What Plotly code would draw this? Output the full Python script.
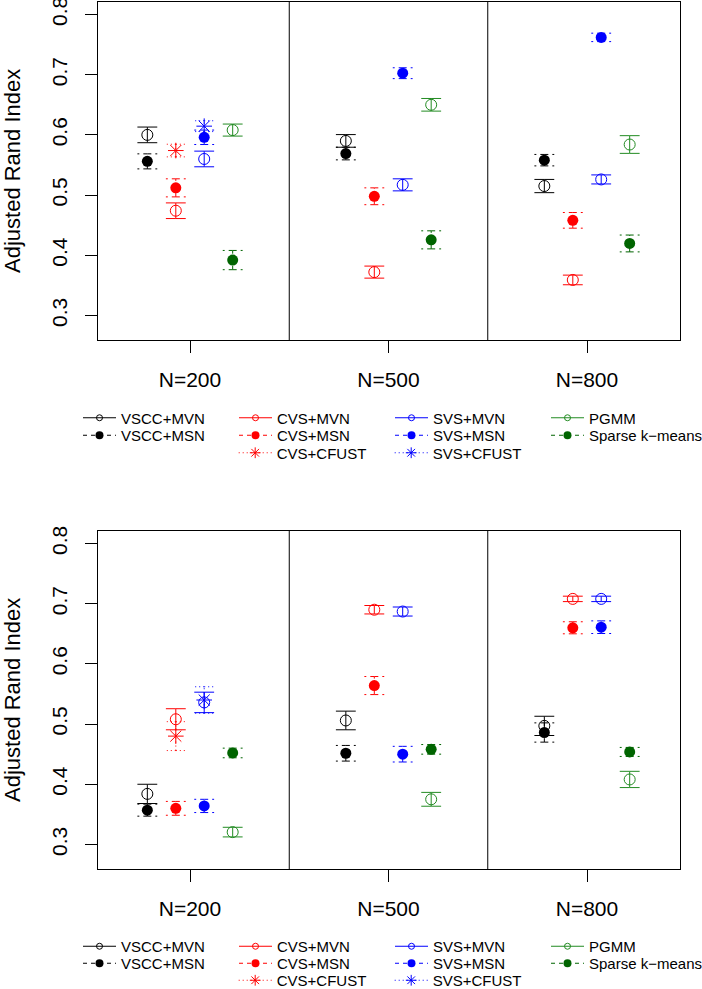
import plotly.graph_objects as go

# ---------------- data ----------------
groups = ["N=200", "N=500", "N=800"]
y_ticks = [0.3, 0.4, 0.5, 0.6, 0.7, 0.8]
y_title = "Adjusted Rand Index"

# top panel: means and half-widths of intervals
top_vscc_mvn = [0.600, 0.590, 0.515]
top_vscc_mvn_se = [0.013, 0.0105, 0.011]
top_vscc_msn = [0.556, 0.569, 0.558]
top_vscc_msn_se = [0.0125, 0.0105, 0.0095]
top_cvs_mvn = [0.474, 0.372, 0.359]
top_cvs_mvn_se = [0.013, 0.010, 0.008]
top_cvs_msn = [0.512, 0.498, 0.458]
top_cvs_msn_se = [0.015, 0.014, 0.013]
top_cvs_cfust = [0.574, None, None]
top_cvs_cfust_se = [0.0105, None, None]
top_svs_mvn = [0.560, 0.517, 0.526]
top_svs_mvn_se = [0.013, 0.010, 0.0075]
top_svs_msn = [0.596, 0.7025, 0.762]
top_svs_msn_se = [0.012, 0.009, 0.007]
top_svs_cfust = [0.6145, None, None]
top_svs_cfust_se = [0.009, None, None]
top_pgmm = [0.608, 0.650, 0.584]
top_pgmm_se = [0.010, 0.0105, 0.0147]
top_sparse = [0.392, 0.4256, 0.4196]
top_sparse_se = [0.016, 0.015, 0.014]

# bottom panel
bot_vscc_mvn = [0.384, 0.506, 0.497]
bot_vscc_mvn_se = [0.016, 0.0155, 0.016]
bot_vscc_msn = [0.357, 0.4515, 0.486]
bot_vscc_msn_se = [0.010, 0.013, 0.016]
bot_cvs_mvn = [0.508, 0.690, 0.708]
bot_cvs_mvn_se = [0.0175, 0.007, 0.0045]
bot_cvs_msn = [0.360, 0.564, 0.660]
bot_cvs_msn_se = [0.0115, 0.015, 0.010]
bot_cvs_cfust = [0.480, None, None]
bot_cvs_cfust_se = [0.024, None, None]
bot_svs_mvn = [0.536, 0.687, 0.708]
bot_svs_mvn_se = [0.017, 0.0075, 0.0045]
bot_svs_msn = [0.364, 0.450, 0.661]
bot_svs_msn_se = [0.011, 0.013, 0.0105]
bot_svs_cfust = [0.540, None, None]
bot_svs_cfust_se = [0.022, None, None]
bot_pgmm = [0.3205, 0.375, 0.408]
bot_pgmm_se = [0.008, 0.0115, 0.0135]
bot_sparse = [0.452, 0.458, 0.4537]
bot_sparse_se = [0.008, 0.008, 0.0075]

method_names = ["VSCC+MVN", "VSCC+MSN", "CVS+MVN", "CVS+MSN", "CVS+CFUST",
                "SVS+MVN", "SVS+MSN", "SVS+CFUST", "PGMM", "Sparse k\u2212means"]

panels = [
    [(top_vscc_mvn, top_vscc_mvn_se), (top_vscc_msn, top_vscc_msn_se),
     (top_cvs_mvn, top_cvs_mvn_se), (top_cvs_msn, top_cvs_msn_se),
     (top_cvs_cfust, top_cvs_cfust_se), (top_svs_mvn, top_svs_mvn_se),
     (top_svs_msn, top_svs_msn_se), (top_svs_cfust, top_svs_cfust_se),
     (top_pgmm, top_pgmm_se), (top_sparse, top_sparse_se)],
    [(bot_vscc_mvn, bot_vscc_mvn_se), (bot_vscc_msn, bot_vscc_msn_se),
     (bot_cvs_mvn, bot_cvs_mvn_se), (bot_cvs_msn, bot_cvs_msn_se),
     (bot_cvs_cfust, bot_cvs_cfust_se), (bot_svs_mvn, bot_svs_mvn_se),
     (bot_svs_msn, bot_svs_msn_se), (bot_svs_cfust, bot_svs_cfust_se),
     (bot_pgmm, bot_pgmm_se), (bot_sparse, bot_sparse_se)],
]

# ---------------- styles ----------------
BLACK, RED, BLUE, GREEN, DGREEN = "#000000", "#FF0000", "#0000FF", "#228B22", "#006400"
SOLID, DASH, DOT = "solid", "4px,4px", "1px,3px"
# (color, symbol, dash, column offset, legend row)
styles = [
    (BLACK, "circle-open", SOLID, -0.215, 0),
    (BLACK, "circle", DASH, -0.215, 1),
    (RED, "circle-open", SOLID, -0.0715, 0),
    (RED, "circle", DASH, -0.0715, 1),
    (RED, "asterisk-open", DOT, -0.0715, 2),
    (BLUE, "circle-open", SOLID, 0.0715, 0),
    (BLUE, "circle", DASH, 0.0715, 1),
    (BLUE, "asterisk-open", DOT, 0.0715, 2),
    (GREEN, "circle-open", SOLID, 0.215, 0),
    (DGREEN, "circle", DASH, 0.215, 1),
]
MSIZE = {"circle-open": 11, "circle": 11, "asterisk-open": 13}
LSIZE = {"circle-open": 6, "circle": 8, "asterisk-open": 9}
CAP = 0.05

W, H = 702, 989
X0, X1 = 98, 680
PANEL_PX = [(2, 340), (531, 869)]
XRANGE = [0.5365, 3.4685]
YRANGE = [0.2592, 0.8208]
FONT = "Liberation Sans, Arial, Helvetica, sans-serif"
TITLE_X_PX = 12

LEG_ROWS_PX = [[418, 435.5, 453], [946.5, 963.5, 980.5]]
LEG_COL_PX = [78, 233.7]

fig = go.Figure()

for p, data in enumerate(panels):
    xa = "x" if p == 0 else "x2"
    ya = "y" if p == 0 else "y2"
    # error bars
    for (means, ses), (col, sym, dash, off, row) in zip(data, styles):
        xs, ys = [], []
        for i, (m, s) in enumerate(zip(means, ses)):
            if m is None:
                continue
            xc = i + 1 + off
            lo, hi = m - s, m + s
            xs += [xc, xc, None,
                   xc, xc - CAP, None, xc, xc + CAP, None,
                   xc, xc - CAP, None, xc, xc + CAP, None]
            ys += [lo, hi, None,
                   hi, hi, None, hi, hi, None,
                   lo, lo, None, lo, lo, None]
        fig.add_trace(go.Scatter(x=xs, y=ys, mode="lines", xaxis=xa, yaxis=ya,
                                 line=dict(color=col, width=1, dash=dash),
                                 connectgaps=False, showlegend=False, hoverinfo="skip"))
    # points
    for (means, ses), (col, sym, dash, off, row), name in zip(data, styles, method_names):
        xs = [i + 1 + off for i, m in enumerate(means) if m is not None]
        ys = [m for m in means if m is not None]
        mk = dict(symbol=sym, size=MSIZE[sym], color=col,
                  line=dict(color=col, width=1 if "open" in sym else 0))
        fig.add_trace(go.Scatter(x=xs, y=ys, mode="markers", xaxis=xa, yaxis=ya,
                                 marker=mk, showlegend=False, name=name))
    # legend entries
    for (col, sym, dash, off, row), name in zip(styles, method_names):
        leg_id = p * 3 + row + 1
        leg = "legend" if leg_id == 1 else "legend%d" % leg_id
        mk = dict(symbol=sym, size=LSIZE[sym], color=col,
                  line=dict(color=col, width=1 if "open" in sym else 0))
        extra = {"legendwidth": 130} if name.startswith("Sparse") else {}
        fig.add_trace(go.Scatter(x=[None], y=[None], mode="lines+markers",
                                 xaxis=xa, yaxis=ya, name=name, legend=leg,
                                 line=dict(color=col, width=1, dash=dash),
                                 marker=mk, showlegend=True, **extra))

axis_common = dict(showline=True, mirror=True, linecolor="black", linewidth=1,
                   ticks="outside", ticklen=12, tickwidth=1, tickcolor="black",
                   showgrid=False, zeroline=False, fixedrange=True,
                   ticklabeloverflow="allow")

layout = dict(width=W, height=H, margin=dict(l=0, r=0, t=0, b=0, autoexpand=False),
              paper_bgcolor="white", plot_bgcolor="white",
              font=dict(family=FONT, color="black"), shapes=[], annotations=[])

for p, (t, b) in enumerate(PANEL_PX):
    sfx = "" if p == 0 else "2"
    ydom = [1 - b / H, 1 - t / H]
    layout["xaxis" + sfx] = dict(axis_common, domain=[X0 / W, X1 / W], range=XRANGE,
                                 anchor="y" + sfx, tickmode="array",
                                 tickvals=[i + 1 for i in range(len(groups))],
                                 ticktext=groups, tickfont=dict(size=21),
                                 ticklabelstandoff=9)
    layout["yaxis" + sfx] = dict(axis_common, domain=ydom, range=YRANGE,
                                 anchor="x" + sfx, tickmode="array", tickvals=y_ticks,
                                 ticktext=["%.1f" % v for v in y_ticks],
                                 tickangle=-90, tickfont=dict(size=21),
                                 ticklabelstandoff=10)
    layout["annotations"].append(dict(text=y_title, textangle=-90, showarrow=False,
                                      xref="paper", yref="paper",
                                      x=TITLE_X_PX / W, y=(ydom[0] + ydom[1]) / 2,
                                      xanchor="center", yanchor="middle", borderpad=0,
                                      font=dict(size=22, family=FONT, color="black")))
    for k in range(len(groups) - 1):
        layout["shapes"].append(dict(type="line", xref="x" + sfx, yref="y%s domain" % sfx,
                                     x0=k + 1.5, x1=k + 1.5, y0=0, y1=1,
                                     line=dict(color="black", width=1)))
    for row in range(3):
        leg_id = p * 3 + row + 1
        key = "legend" if leg_id == 1 else "legend%d" % leg_id
        xpx = LEG_COL_PX[1] if row == 2 else LEG_COL_PX[0]
        layout[key] = dict(orientation="h", x=xpx / W, xanchor="left",
                           y=1 - LEG_ROWS_PX[p][row] / H, yanchor="middle",
                           bgcolor="rgba(0,0,0,0)", borderwidth=0,
                           font=dict(size=15, family=FONT, color="black"),
                           entrywidth=108, entrywidthmode="pixels", itemwidth=33,
                           traceorder="normal", itemclick=False, itemdoubleclick=False)

fig.update_layout(**layout)
fig.write_html("out.html", config={"displayModeBar": False},
               post_script="document.body.style.margin='0px';")
